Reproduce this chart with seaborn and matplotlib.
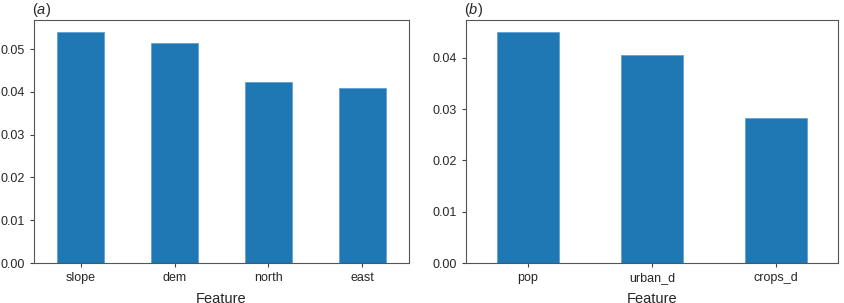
import matplotlib
matplotlib.use("Agg")
import matplotlib.pyplot as plt
from matplotlib.ticker import StrMethodFormatter
import seaborn as sns
import pandas as pd

sns.set_style("ticks")
plt.rcParams['font.family'] = ['Liberation Sans', 'DejaVu Sans']
plt.rcParams['mathtext.fontset'] = 'custom'
plt.rcParams['mathtext.it'] = 'Liberation Sans:italic'
plt.rcParams['mathtext.rm'] = 'Liberation Sans'

feat_a = ["slope", "dem", "north", "east"]
imp_a = [0.0541, 0.0515, 0.0424, 0.0409]
feat_b = ["pop", "urban_d", "crops_d"]
imp_b = [0.04515, 0.0405, 0.02837]

fig = plt.figure(figsize=(8.45, 3.03), dpi=100)
ax1 = fig.add_axes([34/845, 40/303, 375/845, 243/303])
ax2 = fig.add_axes([466/845, 40/303, 372/845, 243/303])

for ax, feats, vals, lab in [(ax1, feat_a, imp_a, "a"), (ax2, feat_b, imp_b, "b")]:
    df = pd.DataFrame({"Feature": feats, "imp": vals})
    sns.barplot(data=df, x="Feature", y="imp", ax=ax, color="#1f77b4",
                saturation=1, width=0.5, edgecolor="#5fa2d6", linewidth=0.6)
    ax.set_ylim(0, max(vals) * 1.05)
    ax.set_xlim(-0.5, len(feats) - 0.5)
    ax.set_ylabel("")
    ax.set_xlabel("Feature", fontsize=10.5, labelpad=6)
    ax.tick_params(labelsize=9, length=3, width=0.8, color="#444444")
    ax.yaxis.set_major_formatter(StrMethodFormatter("{x:.2f}"))
    for s in ax.spines.values():
        s.set_color("#555555")
        s.set_linewidth(0.8)
    ax.set_title("($\\mathit{%s}$)" % lab, loc="left", fontsize=10.5, pad=4, x=-0.005)

fig.savefig("out.png", dpi=100)
